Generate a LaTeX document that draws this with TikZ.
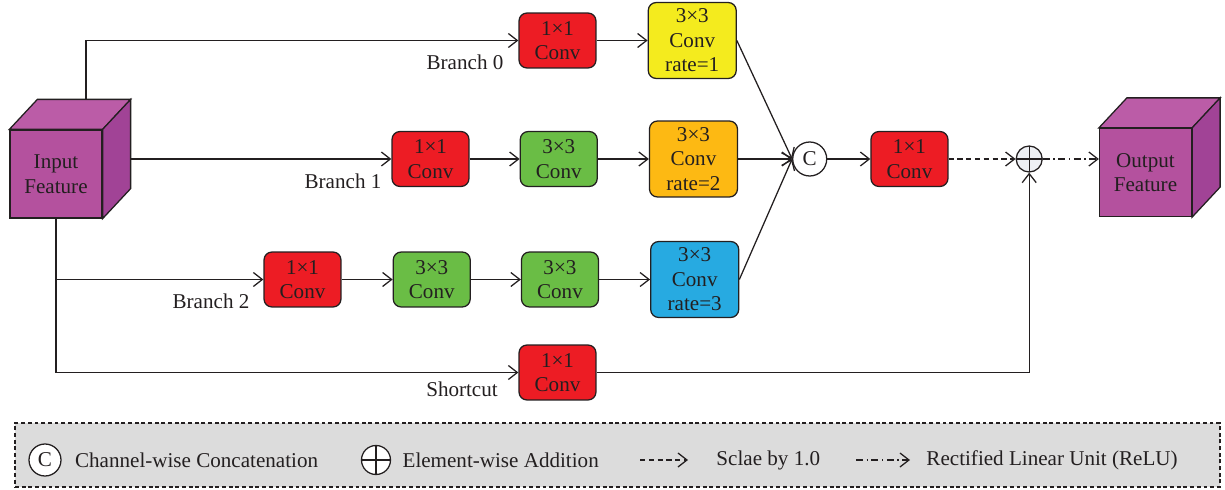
\documentclass[tikz,border=0pt]{standalone}
\usepackage{fontspec}
\setmainfont{Liberation Serif}
\usetikzlibrary{arrows.meta,positioning,calc}
\definecolor{convred}{HTML}{ED1C24}
\definecolor{convgreen}{HTML}{6ABD45}
\definecolor{convyellow}{HTML}{F4EB1E}
\definecolor{convorange}{HTML}{FDB913}
\definecolor{convblue}{HTML}{27AAE1}
\definecolor{cubefront}{HTML}{B4519E}
\definecolor{cubetop}{HTML}{BB5CA7}
\definecolor{cubeside}{HTML}{A14396}
\definecolor{legendbg}{HTML}{DCDCDC}
\definecolor{inkgray}{HTML}{231F20}
\definecolor{addfill}{HTML}{EEF0F4}
\begin{document}
\begin{tikzpicture}[x=0.02cm, y=-0.02cm, node distance=1cm, line width=0.72pt, draw=inkgray,
  every node/.style={font=\fontsize{12}{14}\selectfont, text=inkgray}, >={Straight Barb[length=1.8mm,width=2.8mm]}]
\tikzstyle{conv}=[draw, rounded corners=0.16cm, minimum width=1.54cm, minimum height=1.1cm, align=center, inner sep=1pt, fill=convred]
\tikzstyle{dil}=[conv, minimum width=1.76cm, minimum height=1.52cm]
\tikzstyle{catop}=[circle, draw, fill=white, minimum size=0.68cm, inner sep=0pt]
\tikzstyle{addop}=[circle, draw, fill=addfill, minimum size=0.52cm, inner sep=0pt,
  path picture={\draw (path picture bounding box.north) -- (path picture bounding box.south)
    (path picture bounding box.west) -- (path picture bounding box.east);}]
\tikzstyle{cubeface}=[draw, fill=cubefront, minimum width=1.84cm, minimum height=1.76cm, align=center]
\tikzstyle{lbl}=[inner sep=1pt]
\useasboundingbox (0,0) rectangle (1225,490);
% cubes
\node[cubeface] (inp) at (56,174) {Input\\Feature};
\node[cubeface] (out) at (1145.5,172.5) {Output\\Feature};
\foreach \c in {inp,out} {
  \draw[fill=cubetop] (\c.north west) -- ++(28,-30) -- ($(\c.north east)+(28,-30)$) -- (\c.north east) -- cycle;
  \draw[fill=cubeside] (\c.north east) -- ++(28,-30) -- ($(\c.south east)+(28,-30)$) -- (\c.south east) -- cycle;
}
% branches
\node[conv] (b0a) at (557.5,40.5) {1×1\\Conv};
\node[dil, fill=convyellow, right=1.02cm of b0a] (b0b) {3×3\\Conv\\rate=1};
\node[conv] (b1a) at (430.5,159) {1×1\\Conv};
\node[conv, fill=convgreen, right=1cm of b1a] (b1b) {3×3\\Conv};
\node[dil, fill=convorange, right=1.02cm of b1b] (b1c) {3×3\\Conv\\rate=2};
\node[conv] (b2a) at (302.5,279.5) {1×1\\Conv};
\node[conv, fill=convgreen, right=1.02cm of b2a] (b2b) {3×3\\Conv};
\node[conv, fill=convgreen, right=1cm of b2b] (b2c) {3×3\\Conv};
\node[dil, fill=convblue, right=1.02cm of b2c] (b2d) {3×3\\Conv\\rate=3};
\node[conv] (sc) at (557.5,372.5) {1×1\\Conv};
\node[catop, right=1.08cm of b1c] (cat) {C};
\node[conv, right=0.86cm of cat] (post) {1×1\\Conv};
\node[addop, right=1.34cm of post] (add) {};
\node[lbl] (l0) at (465,62) {Branch 0};
\node[lbl] (l1) at (343,181) {Branch 1};
\node[lbl] (l2) at (211,301) {Branch 2};
\node[lbl] (l3) at (462,389) {Shortcut};
\coordinate (b0s) at ($(inp.north)+(30,-30)$);
\coordinate (b1s) at ($(inp.east)+(28,-15)$);
\draw[->] (b0s) |- (b0a.west);
\draw[->] (b1s) -- (b1a.west);
\draw[->] (inp.south) |- (b2a.west);
\draw[->] (inp.south) |- (sc.west);
\draw[->] (b0a) -- (b0b); \draw[->] (b1a) -- (b1b); \draw[->] (b1b) -- (b1c);
\draw[->] (b2a) -- (b2b); \draw[->] (b2b) -- (b2c); \draw[->] (b2c) -- (b2d);
\draw[->] (b0b.east) -- (cat.west);
\draw[->] (b1c.east) -- (cat.west);
\draw[->] (b2d.east) -- (cat.west);
\draw[->] (cat) -- (post);
\draw[->, dash pattern=on 3pt off 2pt] (post) -- (add);
\draw[->] (sc.east) -| (add.south);
\draw[->, dash pattern=on 4pt off 2pt on 0.8pt off 2pt] (add.east) -- (add.east -| out.west);
% legend
\node[draw, dash pattern=on 2.2pt off 1.6pt, fill=legendbg, minimum width=24.1cm, minimum height=1.28cm] (leg) at (617.5,455) {};
\node[catop, minimum size=0.64cm] (lc) at (45,460) {C};
\node[right=0.14cm of lc] (lct) {Channel-wise Concatenation};
\node[addop, fill=white, minimum size=0.58cm] (la) at (376,460) {};
\node[right=0.1cm of la] (lat) {Element-wise Addition};
\coordinate (ld0) at (640,460); \coordinate (ld1) at (688,460);
\draw[->, dash pattern=on 3pt off 2pt] (ld0) -- (ld1);
\node[right=0.44cm of ld1] (ldt) {Sclae by 1.0};
\coordinate (lr0) at (856,460); \coordinate (lr1) at (910,460);
\draw[->, dash pattern=on 4pt off 2pt on 0.8pt off 2pt] (lr0) -- (lr1);
\node[right=0.2cm of lr1] (lrt) {Rectified Linear Unit (ReLU)};
\end{tikzpicture}
\end{document}
